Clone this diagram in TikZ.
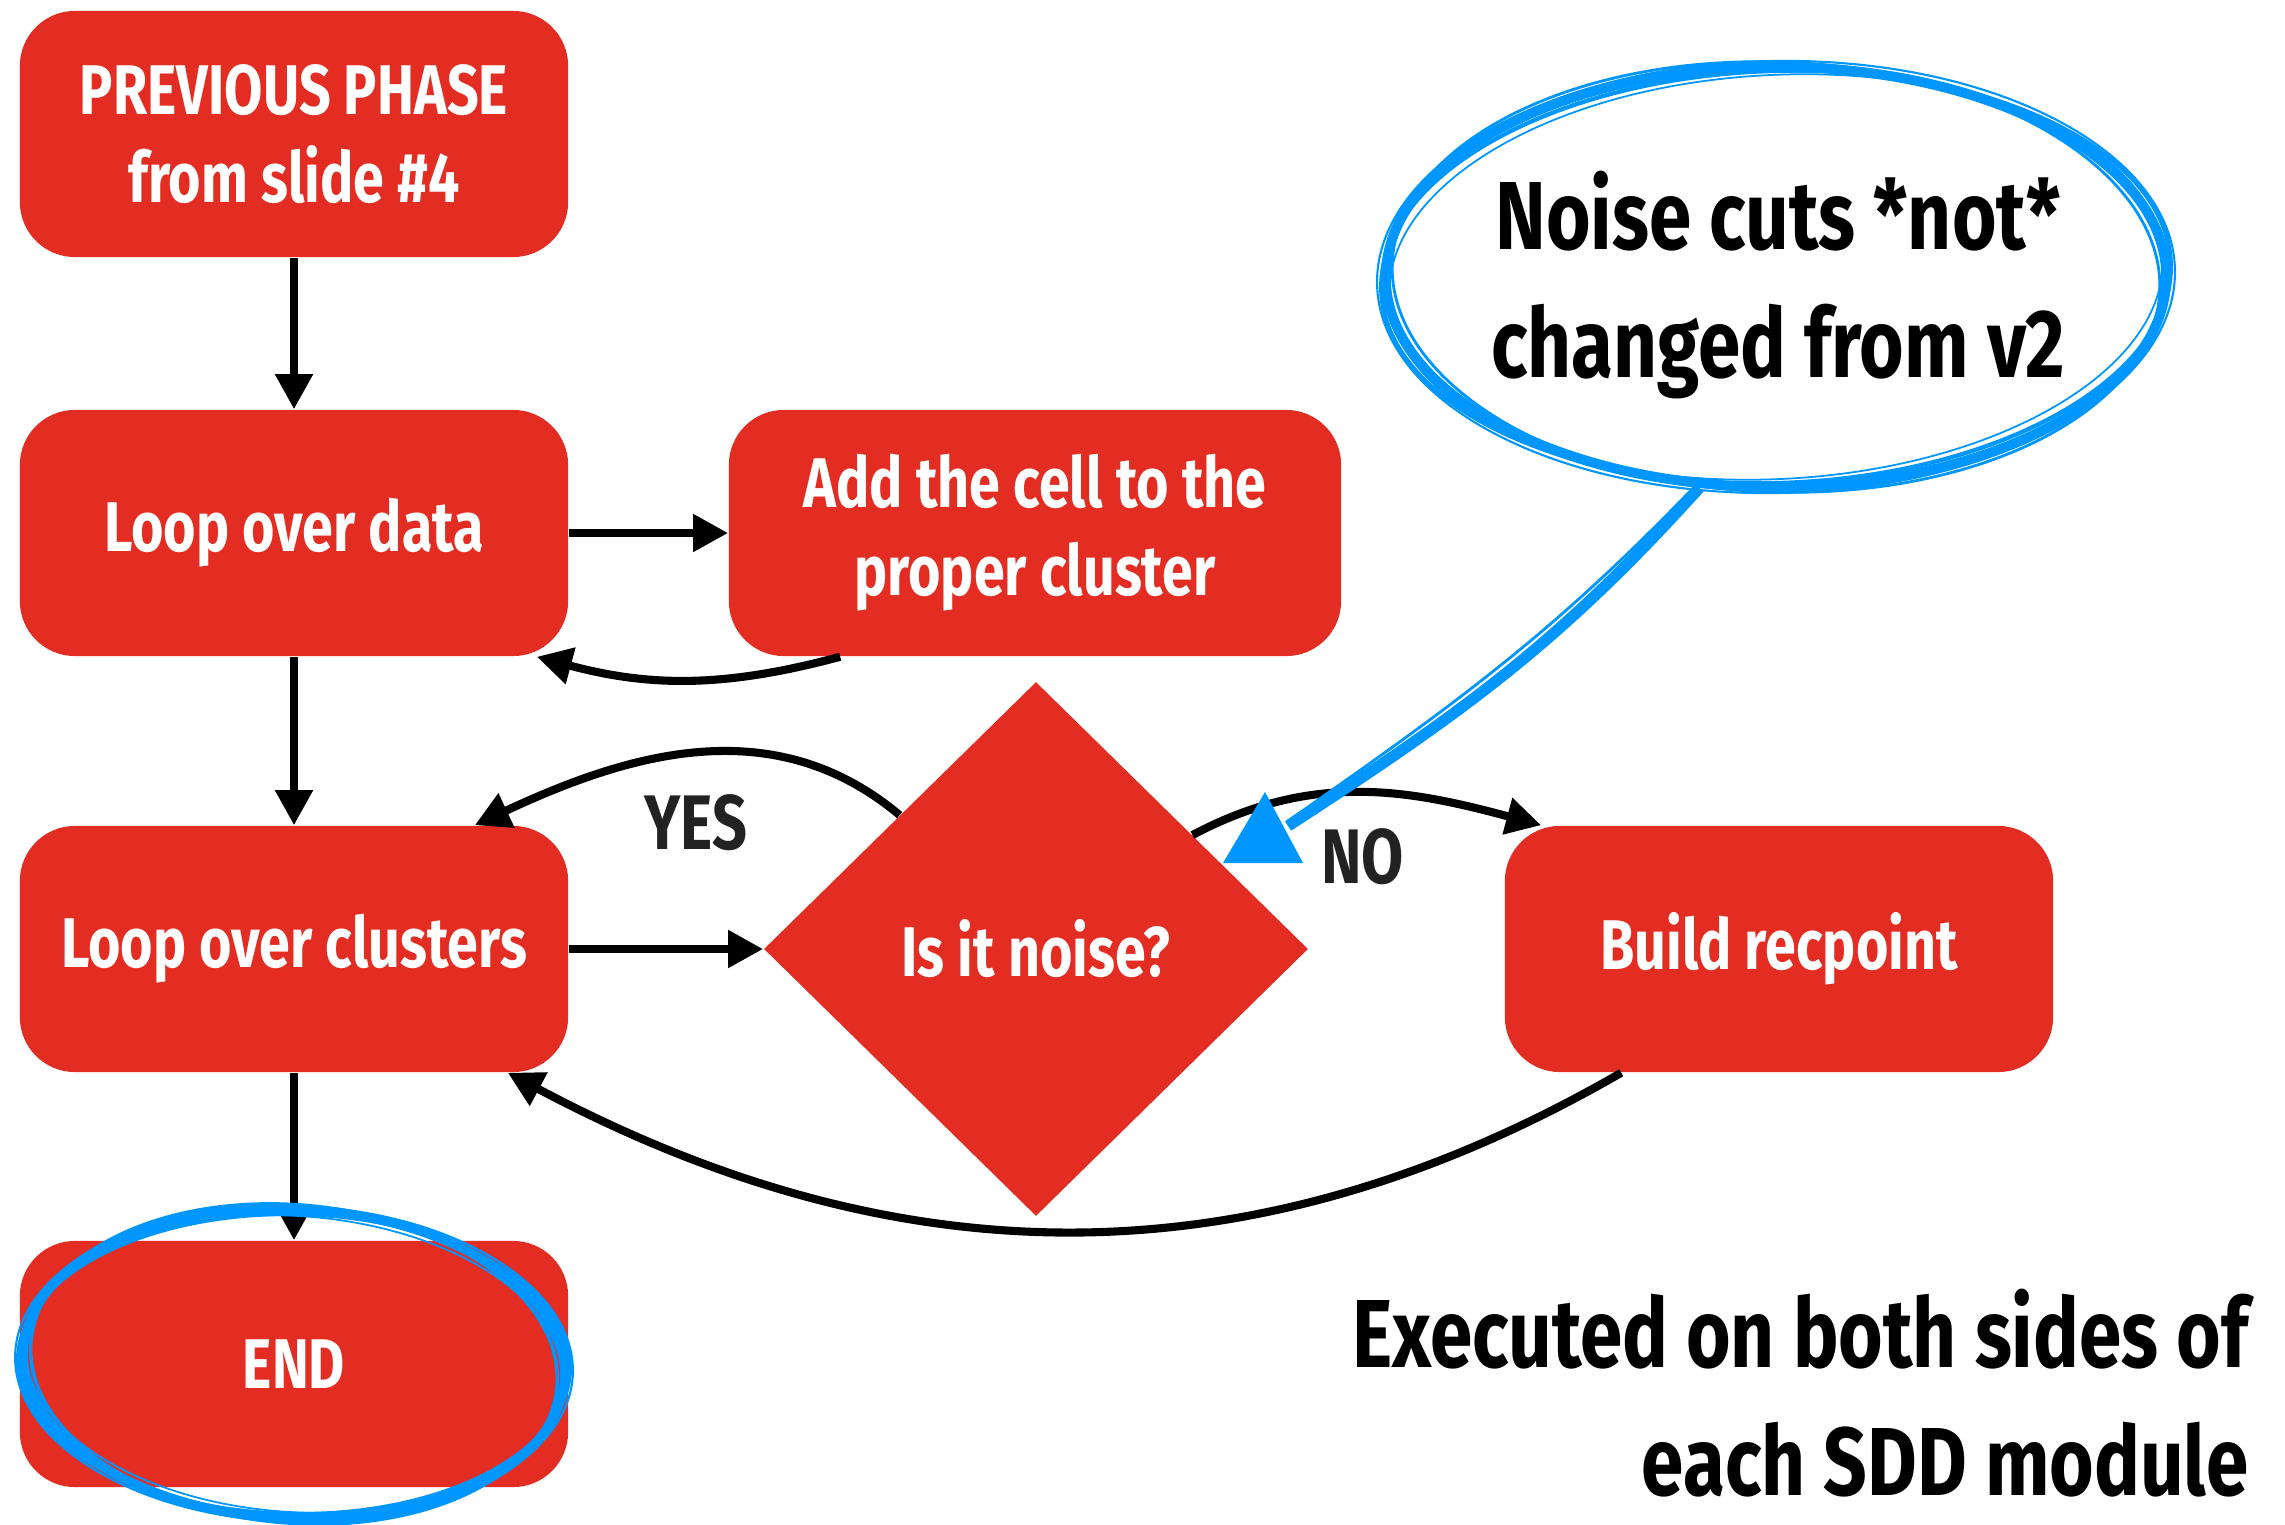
\documentclass[tikz,border=0pt]{standalone}
\usepackage{fontspec}
\setmainfont{Fira Sans}[FakeStretch=0.79]
\usepackage{tikz}
\usetikzlibrary{arrows.meta,shapes.geometric}
\definecolor{boxred}{RGB}{227,45,35}
\definecolor{penblue}{RGB}{0,150,255}
\definecolor{inkgray}{RGB}{34,34,34}

\begin{document}
\begin{tikzpicture}[x=0.01cm, y=0.01cm,
  box/.style={fill=boxred, rounded corners=5.5mm, minimum width=5.48cm,
              minimum height=2.46cm, align=center, text=white, inner sep=2pt,
              font=\fontsize{20}{25}\selectfont\bfseries},
  decision/.style={diamond, fill=boxred, minimum width=5.44cm,
              minimum height=5.34cm, inner sep=0pt, text=white,
              font=\fontsize{20}{25}\selectfont\bfseries},
  arr/.style={-{Triangle[length=3.5mm, width=3.6mm]}, line width=2.3pt},
  answer/.style={text=inkgray, font=\fontsize{22}{26}\selectfont\bfseries},
  note/.style={align=center, inner sep=0pt,
              font=\fontsize{27.5}{36.5}\selectfont\bfseries},
  pen/.style={draw=penblue, line width=1pt}
]
  \useasboundingbox (0,0) rectangle (2285,-1525);

  % flow chart
  \node[box] (prev) at (294,-134) {PREVIOUS PHASE\\from slide \#4};
  \node[box] (data) at (294,-533) {Loop over data};
  \node[box, minimum width=6.12cm] (cell) at (1035,-533) {Add the cell to the\\proper cluster};
  \node[box] (clus) at (294,-949) {Loop over clusters};
  \node[box] (end) at (294,-1364) {END};
  \node[decision] (noise) at (1036,-949) {Is it noise?};
  \node[box] (build) at (1779,-949) {Build recpoint};

  \draw[arr] (prev) -- (data);
  \draw[arr] (data) -- (cell);
  \draw[arr] ([xshift=1.12cm]cell.south west) to[out=195, in=-15]
    ([xshift=-0.32cm]data.south east);
  \draw[arr] (data) -- (clus);
  \draw[arr] (clus) -- (noise);
  \draw[arr] (noise.north west) to[out=140, in=25]
    node[answer, below=2.5mm] {YES} ([xshift=-0.94cm]clus.north east);
  \draw[arr] ([shift={(0.2cm,-0.2cm)}]noise.north east) to[out=28, in=165]
    node[answer, below=2mm] {NO} ([xshift=0.37cm]build.north west);
  \draw[arr] ([xshift=1.17cm]build.south west) to[out=-150, in=-28]
    ([xshift=-0.61cm]clus.south east);
  \draw[arr] (clus) -- (end);

  % hand drawn marks
  \foreach \dx/\dy/\rot/\w in {0/0/-3/2.6pt, 5/-5/-1/1.2pt, -7/4/-5/1pt, 8/3/-2/0.6pt, -3/-7/-4/0.5pt}
    \draw[pen, line width=\w, rotate around={\rot:(end.center)}]
      (end.center) ellipse [x radius=271+\dx, y radius=155+\dy];

  \node[ellipse, minimum width=7.8cm, minimum height=4.2cm, pen,
        line width=2.8pt] (bubble) at (1776,-277) {};
  \foreach \dx/\dy/\rot/\w in {5/-4/2/1.2pt, -6/5/-2/0.8pt, 9/6/1/0.6pt, -3/-8/3/0.5pt}
    \draw[pen, line width=\w, rotate around={\rot:(bubble.center)}]
      (bubble.center) ellipse [x radius=390+\dx, y radius=210+\dy];
  \node[note] (cuts) at (1778,-285) {Noise cuts *not*\\changed from v2};
  \coordinate (tip) at (1288,-826);
  \draw[pen, line width=3.2pt] (bubble.-110) to[out=-132, in=33] (tip);
  \draw[pen, line width=0.8pt] ([xshift=-0.06cm]bubble.-110) to[out=-134, in=35] ([yshift=0.05cm]tip);
  \fill[penblue] (1223,-863) -- (1265,-792) -- (1303,-863) -- cycle;

  \node[note, align=right, anchor=east] (exec) at (2249,-1393)
    {Executed on both sides of\\each SDD module};
\end{tikzpicture}
\end{document}
